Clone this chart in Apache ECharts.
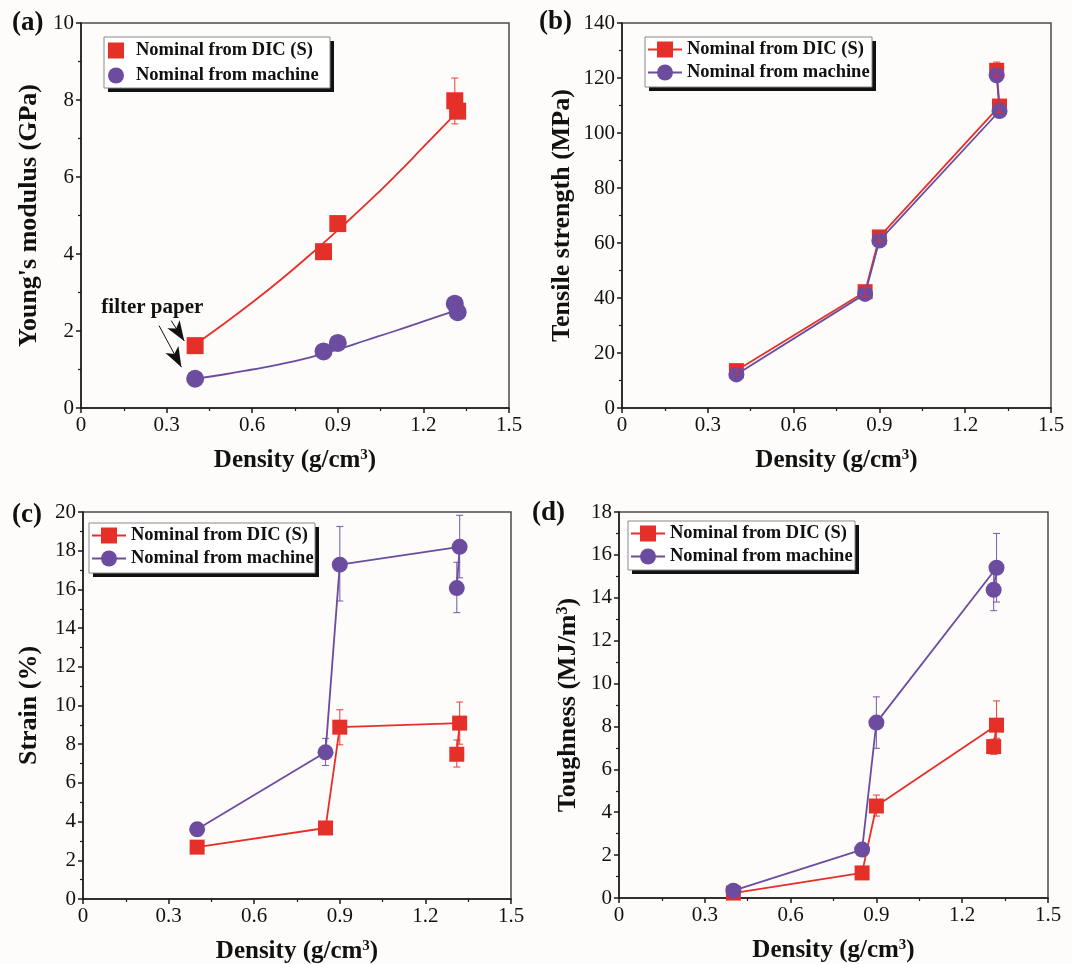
<!DOCTYPE html>
<html>
<head>
<meta charset="utf-8">
<script src="https://cdn.jsdelivr.net/npm/echarts@6/dist/echarts.min.js"></script>
<style>
html,body{margin:0;padding:0;background:#fdfcfa;}
#chart{width:1072px;height:964px;}
</style>
</head>
<body>
<div id="chart"></div>
<script>
// ---------- data ----------
const legendNames = ['Nominal from DIC (S)', 'Nominal from machine'];
const panelLabels = ['(a)', '(b)', '(c)', '(d)'];
const xTickMin = 0, xTickMax = 1.5, xTickStep = 0.3;

// (a) Young's modulus
const densityA = [0.4, 0.85, 0.9, 1.31, 1.32];
const modulusDIC = [1.62, 4.06, 4.79, 7.98, 7.71];
const modulusMachine = [0.76, 1.47, 1.69, 2.71, 2.49];
const modulusDICErr = [[1.31, 7.38, 8.57]];
const fitDensity = [0.4, 0.5, 0.6, 0.7, 0.8, 0.9, 1.0, 1.1, 1.2, 1.32];
const modulusFitDIC = [1.65, 2.18, 2.74, 3.33, 3.96, 4.62, 5.3, 6.02, 6.78, 7.7];
const modulusFitMachine = [0.76, 0.87, 1.0, 1.14, 1.31, 1.52, 1.76, 2.0, 2.25, 2.55];
const annotText = 'filter paper';
const annotPos = [0.25, 2.62];
const arrowLines = [[[0.316, 2.27], [0.362, 1.74]], [[0.2735, 2.14], [0.352, 1.06]]];

// (b),(c),(d) share the density order used for the connecting lines
const densityOrder = [0.4, 0.85, 0.9, 1.32, 1.31];
const strengthDIC = [13.6, 42.3, 62.2, 109.8, 122.8];
const strengthMachine = [12.2, 41.5, 60.9, 108.0, 121.0];
const strengthDICErr = [[0.4, 12.0, 15.2], [0.85, 40.5, 44.0], [0.9, 60.5, 64.0], [1.32, 107.5, 112.0], [1.31, 120.5, 125.8]];

const strainDIC = [2.68, 3.67, 8.88, 9.09, 7.48];
const strainMachine = [3.6, 7.58, 17.28, 18.2, 16.07];
const strainDICErr = [[0.9, 7.97, 9.78], [1.32, 8.0, 10.18], [1.31, 6.82, 8.22]];
const strainMachineErr = [[0.85, 6.9, 8.3], [0.9, 15.4, 19.25], [1.32, 16.6, 19.83], [1.31, 14.8, 17.4]];

const toughDIC = [0.23, 1.17, 4.29, 8.06, 7.06];
const toughMachine = [0.34, 2.26, 8.18, 15.4, 14.37];
const toughDICErr = [[0.9, 3.82, 4.8], [1.32, 7.45, 9.19], [1.31, 6.7, 7.4]];
const toughMachineErr = [[0.9, 6.98, 9.38], [1.32, 13.8, 17.0], [1.31, 13.4, 15.3]];

// y axes: [min, max, interval]
const yRanges = [[0, 10, 2], [0, 140, 20], [0, 20, 2], [0, 18, 2]];
const yNames = [
  "{n|Young's modulus (GPa)}",
  '{n|Tensile strength (MPa)}',
  '{n|Strain (%)}',
  '{n|Toughness (MJ/m}{s|3}{n|)}'
];
const xName = '{n|Density (g/cm}{s|3}{n|)}';

// ---------- styling / layout ----------
const FONT = 'Liberation Serif';
const RED = '#e5302a';
const PURPLE = '#6b4c9f';
const AX = '#1a1a1a';

const grids = [
  {left: 81, top: 23, width: 428, height: 385},
  {left: 622, top: 23, width: 429, height: 385},
  {left: 83, top: 512, width: 428, height: 387},
  {left: 619, top: 512, width: 429, height: 386}
];
const yNameGaps = [39, 47, 41, 38];
// legend frame boxes [x, y, w, h] and legend content origin
const legendBoxes = [[104, 37, 226, 51], [645, 37, 227, 50], [89, 523, 226, 50], [628, 521, 227, 49]];
const legendPos = [[108, 41], [647, 40], [91, 526], [630, 524]];
const labelPos = [[12, 10], [539, 9], [12, 502], [532, 500]];

const richX = {
  n: {fontFamily: FONT, fontWeight: 'bold', fontSize: 25, color: '#111'},
  s: {fontFamily: FONT, fontWeight: 'bold', fontSize: 15, color: '#111', verticalAlign: 'top', padding: [0, 0, 10, 0]}
};
const richY = {
  n: {fontFamily: FONT, fontWeight: 'bold', fontSize: 26, color: '#111'},
  s: {fontFamily: FONT, fontWeight: 'bold', fontSize: 16, color: '#111', verticalAlign: 'top', padding: [0, 0, 10, 0]}
};

function xAxisFor(i) {
  return {
    gridIndex: i, type: 'value', min: xTickMin, max: xTickMax, interval: xTickStep,
    name: xName, nameLocation: 'middle', nameGap: 40,
    nameTextStyle: {rich: richX},
    axisLine: {onZero: false, lineStyle: {color: AX, width: 1.5}},
    axisTick: {show: true, inside: false, length: 5, lineStyle: {color: AX, width: 1.5}},
    minorTick: {show: true, splitNumber: 2, length: 3, lineStyle: {color: AX, width: 1.2}},
    splitLine: {show: false},
    axisLabel: {fontFamily: FONT, fontSize: 21, color: '#111', margin: 7, showMinLabel: true, showMaxLabel: true,
      formatter: v => v === 0 ? '0' : v.toFixed(1)}
  };
}
function yAxisFor(i) {
  const r = yRanges[i];
  return {
    gridIndex: i, type: 'value', min: r[0], max: r[1], interval: r[2],
    name: yNames[i], nameLocation: 'middle', nameGap: yNameGaps[i],
    nameTextStyle: {rich: richY},
    axisLine: {onZero: false, lineStyle: {color: AX, width: 1.5}},
    axisTick: {show: true, inside: false, length: 5, lineStyle: {color: AX, width: 1.5}},
    minorTick: {show: true, splitNumber: 2, length: 3, lineStyle: {color: AX, width: 1.2}},
    splitLine: {show: false},
    axisLabel: {fontFamily: FONT, fontSize: 21, color: '#111', margin: 7, showMinLabel: true, showMaxLabel: true}
  };
}

function zip(xs, ys) { return xs.map((x, k) => [x, ys[k]]); }

function lineSeries(name, gi, xs, ys, color, symbol, size, z) {
  return {
    name: name, type: 'line', xAxisIndex: gi, yAxisIndex: gi,
    data: zip(xs, ys), symbol: symbol, symbolSize: size, showSymbol: true,
    lineStyle: {color: color, width: 1.8}, itemStyle: {color: color, opacity: 1},
    z: z || 2, animation: false
  };
}

function errSeries(gi, triples, color, z) {
  return {
    type: 'custom', name: 'err', xAxisIndex: gi, yAxisIndex: gi,
    data: triples, encode: {x: 0, y: [1, 2]}, z: z || 1, animation: false, silent: true,
    renderItem: function (params, api) {
      const x = api.value(0);
      const lo = api.coord([x, api.value(1)]);
      const hi = api.coord([x, api.value(2)]);
      const w = 3.5;
      const st = {stroke: color, lineWidth: 1.1, opacity: 0.85};
      return {type: 'group', children: [
        {type: 'line', shape: {x1: lo[0], y1: lo[1], x2: hi[0], y2: hi[1]}, style: st},
        {type: 'line', shape: {x1: hi[0] - w, y1: hi[1], x2: hi[0] + w, y2: hi[1]}, style: st},
        {type: 'line', shape: {x1: lo[0] - w, y1: lo[1], x2: lo[0] + w, y2: lo[1]}, style: st}
      ]};
    }
  };
}

const SQ_PATH = 'path://M0,0H10V10H0Z';
const CI_PATH = 'path://M5,0A5,5,0,1,1,5,10A5,5,0,1,1,5,0Z';

function legendFor(i) {
  const base = {
    orient: 'vertical', left: legendPos[i][0], top: legendPos[i][1], padding: 0, z: 10,
    selectedMode: false, itemGap: 4,
    textStyle: {fontFamily: FONT, fontWeight: 'bold', fontSize: 18.5, color: '#111'}
  };
  if (i === 0) {
    return Object.assign(base, {
      itemWidth: 30, itemHeight: 16, itemGap: 6,
      data: [{name: legendNames[0], icon: SQ_PATH}, {name: legendNames[1], icon: CI_PATH}]
    });
  }
  return Object.assign(base, {itemWidth: 34, itemHeight: 20, data: legendNames});
}

const legendFrames = [];
legendBoxes.forEach(b => {
  legendFrames.push({type: 'rect', z: 8, silent: true, shape: {x: b[0] + 4, y: b[1] + 4, width: b[2], height: b[3]},
    style: {fill: '#111'}});
  legendFrames.push({type: 'rect', z: 9, silent: true, shape: {x: b[0], y: b[1], width: b[2], height: b[3]},
    style: {fill: '#ffffff', stroke: '#8a8a8a', lineWidth: 1}});
});

const series = [];
// (b)
series.push(lineSeries(legendNames[0], 1, densityOrder, strengthDIC, RED, 'rect', 15, 2));
series.push(lineSeries(legendNames[1], 1, densityOrder, strengthMachine, PURPLE, 'circle', 16, 3));
series.push(errSeries(1, strengthDICErr, RED, 4));
// (c)
series.push(lineSeries(legendNames[0], 2, densityOrder, strainDIC, RED, 'rect', 15, 2));
series.push(lineSeries(legendNames[1], 2, densityOrder, strainMachine, PURPLE, 'circle', 16, 3));
series.push(errSeries(2, strainDICErr, RED, 1));
series.push(errSeries(2, strainMachineErr, PURPLE, 1));
// (d)
series.push(lineSeries(legendNames[0], 3, densityOrder, toughDIC, RED, 'rect', 15, 2));
series.push(lineSeries(legendNames[1], 3, densityOrder, toughMachine, PURPLE, 'circle', 16, 3));
series.push(errSeries(3, toughDICErr, RED, 1));
series.push(errSeries(3, toughMachineErr, PURPLE, 1));
// (a) fit curves + points
series.push({type: 'line', name: 'DIC fit', xAxisIndex: 0, yAxisIndex: 0, data: zip(fitDensity, modulusFitDIC),
  smooth: true, showSymbol: false, symbol: 'none', lineStyle: {color: RED, width: 1.8}, z: 1, animation: false, silent: true});
series.push({type: 'line', name: 'machine fit', xAxisIndex: 0, yAxisIndex: 0, data: zip(fitDensity, modulusFitMachine),
  smooth: true, showSymbol: false, symbol: 'none', lineStyle: {color: PURPLE, width: 1.8}, z: 1, animation: false, silent: true});
series.push(errSeries(0, modulusDICErr, RED, 1));
series.push({type: 'scatter', name: legendNames[0], xAxisIndex: 0, yAxisIndex: 0, data: zip(densityA, modulusDIC),
  symbol: 'rect', symbolSize: 17, itemStyle: {color: RED, opacity: 1}, z: 3, animation: false,
  markPoint: {symbol: 'circle', symbolSize: 1, itemStyle: {color: 'rgba(0,0,0,0)'}, silent: true, animation: false,
    label: {show: true, formatter: annotText, fontFamily: FONT, fontWeight: 'bold', fontSize: 21, color: '#111'},
    data: [{coord: annotPos}]},
  markLine: {silent: true, animation: false, symbol: ['none', 'arrow'], symbolSize: [11, 20],
    label: {show: false}, lineStyle: {color: '#111', width: 1, type: 'solid'},
    data: arrowLines.map(l => [{coord: l[0]}, {coord: l[1]}])}
});
series.push({type: 'scatter', name: legendNames[1], xAxisIndex: 0, yAxisIndex: 0, data: zip(densityA, modulusMachine),
  symbol: 'circle', symbolSize: 18, itemStyle: {color: PURPLE, opacity: 1}, z: 3, animation: false});

const option = {
  backgroundColor: '#fdfcfa',
  animation: false,
  grid: grids.map(g => Object.assign({show: true, borderColor: '#4a4a4a', borderWidth: 1.5,
    backgroundColor: 'rgba(0,0,0,0)', containLabel: false, outerBoundsMode: 'none'}, g)),
  xAxis: [0, 1, 2, 3].map(xAxisFor),
  yAxis: [0, 1, 2, 3].map(yAxisFor),
  legend: [0, 1, 2, 3].map(legendFor),
  graphic: legendFrames.concat(panelLabels.map((t, k) => ({type: 'text', left: labelPos[k][0], top: labelPos[k][1],
    style: {text: t, fontFamily: FONT, fontWeight: 'bold', fontSize: 27, fill: '#111'}}))),
  series: series
};

const chart = echarts.init(document.getElementById('chart'), null, {renderer: 'canvas'});
chart.setOption(option);
</script>
</body>
</html>
